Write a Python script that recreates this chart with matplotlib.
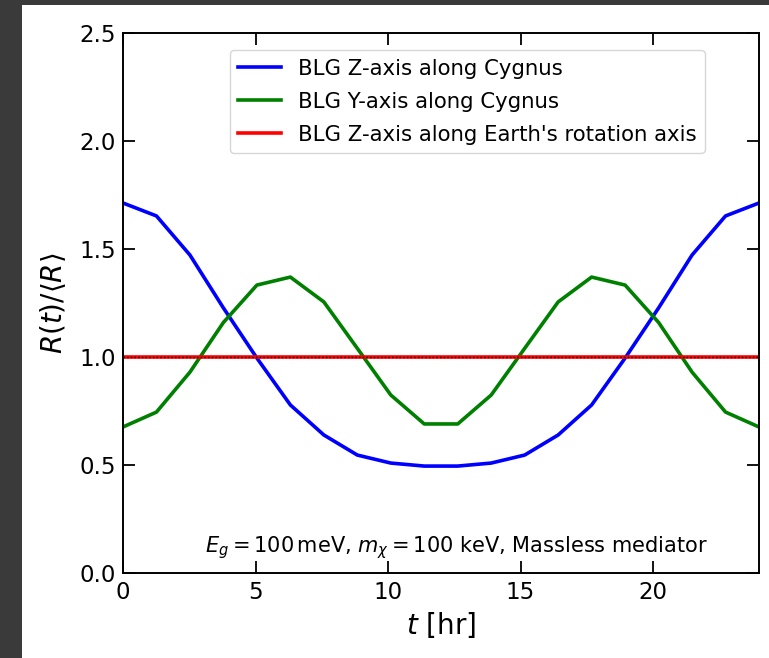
import numpy as np
import matplotlib
matplotlib.use("Agg")
import matplotlib.pyplot as plt
from matplotlib.patches import Rectangle

# Data
t_hr = np.linspace(0, 24, 20)
blg_z_cygnus = [1.713, 1.653, 1.472, 1.227, 0.995, 0.778, 0.639, 0.546, 0.509, 0.495,
                0.495, 0.509, 0.546, 0.639, 0.778, 0.995, 1.227, 1.472, 1.653, 1.713]
blg_y_cygnus = [0.676, 0.745, 0.930, 1.160, 1.333, 1.370, 1.255, 1.040, 0.824, 0.690,
                0.690, 0.824, 1.040, 1.255, 1.370, 1.333, 1.160, 0.930, 0.745, 0.676]
blg_z_earth = [1.0] * 20

labels = ["BLG Z-axis along Cygnus", "BLG Y-axis along Cygnus",
          "BLG Z-axis along Earth's rotation axis"]
colors = ["blue", "green", "red"]

fig = plt.figure(figsize=(7.69, 6.58), dpi=100)
fig.patch.set_facecolor("#3a3a3a")
bg = Rectangle((22 / 769, 0), 1 - 22 / 769, 1 - 5 / 658,
               transform=fig.transFigure, facecolor="white",
               edgecolor="none", zorder=-5)
fig.patches.append(bg)

ax = fig.add_axes([123 / 769, (658 - 573) / 658, (759 - 123) / 769, 540 / 658])
ax.set_zorder(1)

for y, lab, c in zip([blg_z_cygnus, blg_y_cygnus, blg_z_earth], labels, colors):
    ax.plot(t_hr, y, color=c, lw=2.6, label=lab)
ax.axhline(1.0, color="black", ls=":", lw=1.0)

ax.set_xlim(0, 24)
ax.set_ylim(0, 2.5)
ax.set_xticks([0, 5, 10, 15, 20])
ax.set_yticks([0.0, 0.5, 1.0, 1.5, 2.0, 2.5])
ax.tick_params(direction="in", top=True, right=True, length=8.5, width=1.3,
               labelsize=16.5)
ax.tick_params(axis="x", pad=6)
ax.tick_params(axis="y", pad=5)
for s in ax.spines.values():
    s.set_linewidth(1.4)

ax.set_xlabel(r"$t$ [hr]", fontsize=20, labelpad=4)
ax.set_ylabel(r"$R(t)/\langle R\rangle$", fontsize=20, labelpad=8)

ax.legend(loc="upper center", bbox_to_anchor=(0.541, 0.9685), borderaxespad=0,
          fontsize=15.3, labelspacing=0.62)
ax.text(0.524, 0.047, r"$E_g = 100\,$meV, $m_\chi = 100$ keV, Massless mediator",
        transform=ax.transAxes, ha="center", va="center", fontsize=15)

fig.savefig("out.png", dpi=100, facecolor=fig.get_facecolor())
